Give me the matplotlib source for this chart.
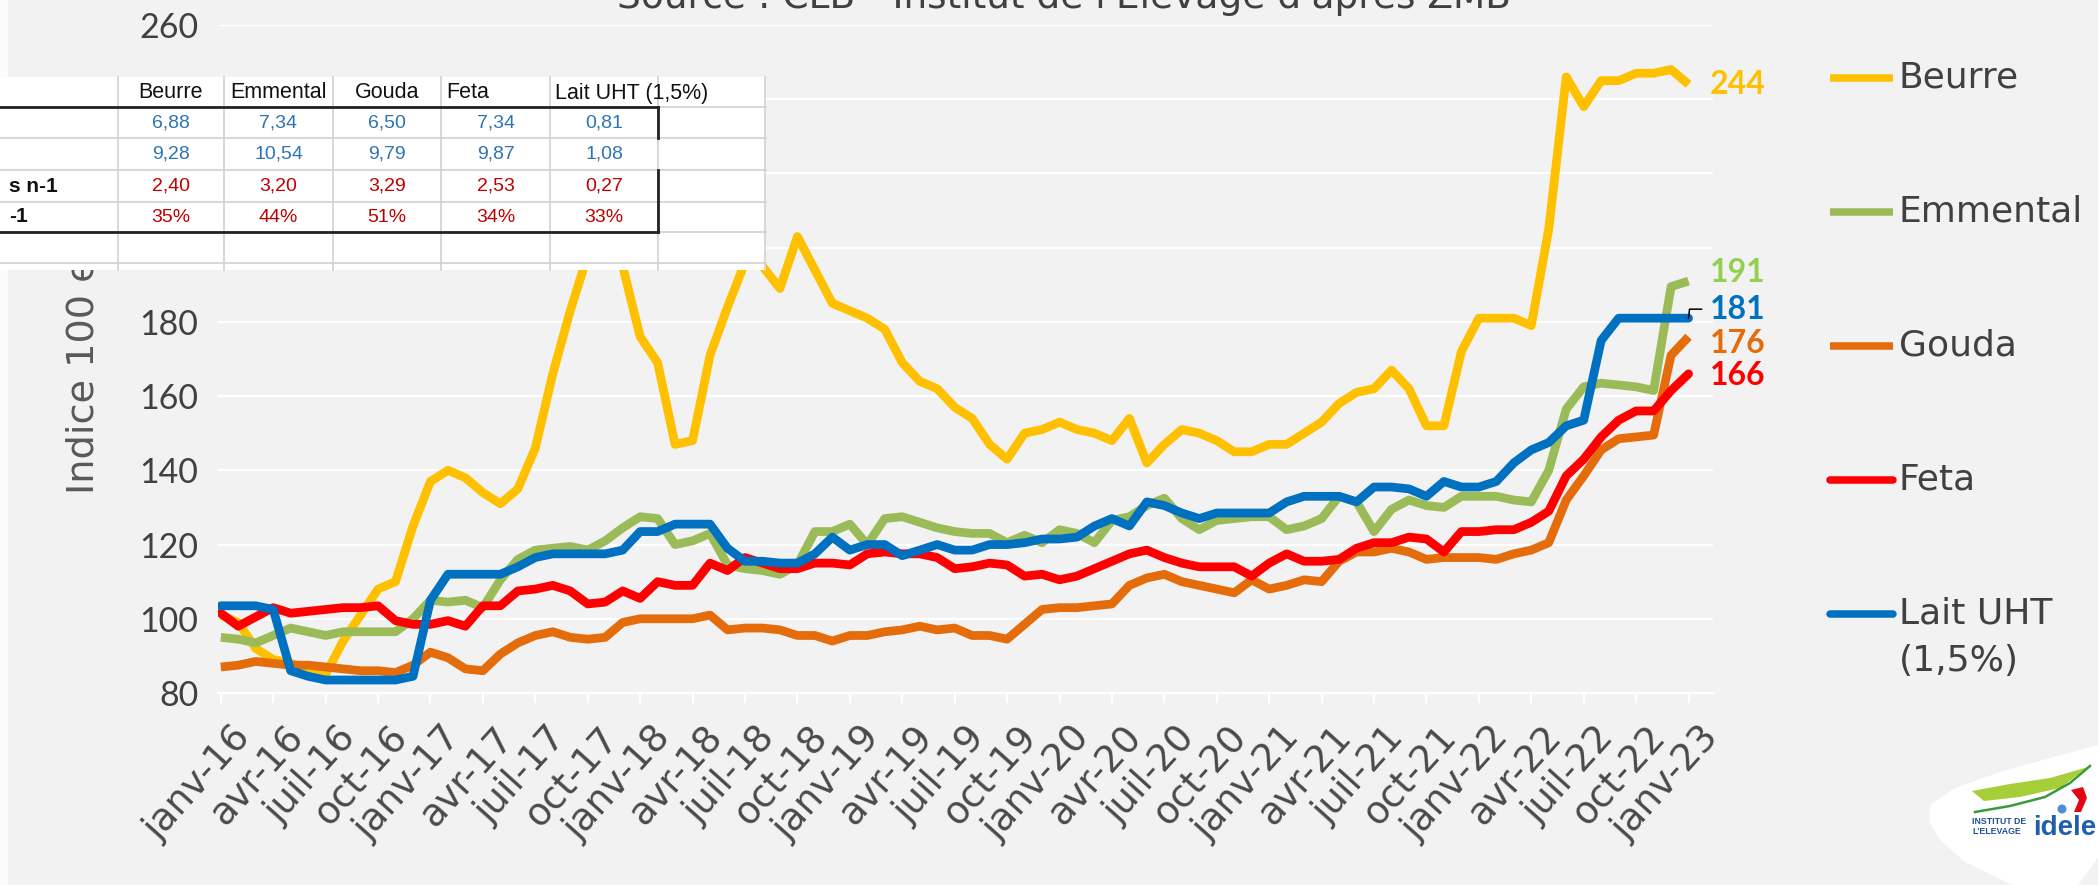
import matplotlib
matplotlib.use('Agg')
import matplotlib.pyplot as plt
from matplotlib import font_manager
from matplotlib.patches import Rectangle, Polygon, Circle
from matplotlib.transforms import ScaledTranslation
import numpy as np

W, H, DPI = 2098, 885, 100

available = {f.name for f in font_manager.fontManager.ttflist}
def pick(*names):
    for n in names:
        if n in available:
            return n
    return 'DejaVu Sans'

NARROW = pick('Liberation Sans Narrow', 'DejaVu Sans Condensed', 'Lato')
MAIN = 'DejaVu Sans'
BOLDLAB = pick('Lato', 'DejaVu Sans')
ARIAL = pick('Liberation Sans', 'DejaVu Sans')

# ---------------- data ----------------
months = list(range(85))  # janv-16 .. janv-23
tick_labels = ['janv-16', 'avr-16', 'juil-16', 'oct-16', 'janv-17', 'avr-17', 'juil-17', 'oct-17',
               'janv-18', 'avr-18', 'juil-18', 'oct-18', 'janv-19', 'avr-19', 'juil-19', 'oct-19',
               'janv-20', 'avr-20', 'juil-20', 'oct-20', 'janv-21', 'avr-21', 'juil-21', 'oct-21',
               'janv-22', 'avr-22', 'juil-22', 'oct-22', 'janv-23']

beurre = [101, 99, 92, 89, 88, 86.5, 85, 94, 101, 108, 110, 125, 137, 140, 138, 134, 131, 135, 146, 166,
          183, 198, 212, 195, 176, 169, 147, 148, 171, 184,
          196, 195, 189, 203, 194, 185, 183, 181, 178, 169, 164, 162, 157, 154, 147, 143, 150, 151, 153, 151,
          150, 148, 154, 142, 147,
          151, 150, 148, 145, 145, 147, 147, 150, 153, 158, 161, 162, 167, 162, 152, 152, 172, 181, 181, 181,
          179, 205, 246, 238, 245, 245, 247, 247, 248, 244]
emmental = [95, 94.5, 93.5, 95.5, 97.5, 96.5, 95.5, 96.5, 96.5, 96.5, 96.5, 100, 105, 104.5, 105, 103, 110.5, 116, 118.5, 119,
            119.5, 118.5, 121, 124.5, 127.5, 127, 120, 121, 123, 114.5,
            113.5, 113, 112, 114.5, 123.5, 123.5, 125.5, 120, 127, 127.5, 126, 124.5, 123.5, 123, 123, 120.5, 122.5, 120.5, 124, 123,
            120.5, 126.5, 127.5, 130.5, 132.5,
            127, 124, 126.5, 127, 127.5, 127.5, 124, 125, 127, 133, 131.5, 123.5, 129.5, 132, 130.5, 130, 133, 133, 133, 132,
            131.5, 140, 156.5, 162.5, 163.5, 163, 162.5, 161.5, 189.5, 191]
gouda = [87, 87.5, 88.5, 88, 87.5, 87.5, 87, 86.5, 86, 86, 85.5, 87.5, 91, 89.5, 86.5, 86, 90.5, 93.5, 95.5, 96.5,
         95, 94.5, 95, 99, 100, 100, 100, 100, 101, 97,
         97.5, 97.5, 97, 95.5, 95.5, 94, 95.5, 95.5, 96.5, 97, 98, 97, 97.5, 95.5, 95.5, 94.5, 98.5, 102.5, 103, 103,
         103.5, 104, 109, 111, 112,
         110, 109, 108, 107, 110.5, 108, 109, 110.5, 110, 115.5, 118, 118, 119, 118, 116, 116.5, 116.5, 116.5, 116, 117.5,
         118.5, 120.5, 132, 138.5, 145.5, 148.5, 149, 149.5, 171, 176]
feta = [101.5, 98, 100.5, 103, 101.5, 102, 102.5, 103, 103, 103.5, 99.5, 98.5, 98.5, 99.5, 98, 103.5, 103.5, 107.5, 108, 109,
        107.5, 104, 104.5, 107.5, 105.5, 110, 109, 109, 115, 113,
        116.5, 115, 113.5, 113.5, 115, 115, 114.5, 117.5, 118, 117.5, 117.5, 116.5, 113.5, 114, 115, 114.5, 111.5, 112, 110.5, 111.5,
        113.5, 115.5, 117.5, 118.5, 116.5,
        115, 114, 114, 114, 111.5, 115, 117.5, 115.5, 115.5, 116, 119, 120.5, 120.5, 122, 121.5, 118, 123.5, 123.5, 124, 124,
        126, 129, 138.5, 143, 149, 153.5, 156, 156, 161.5, 166]
lait_uht = [103.5, 103.5, 103.5, 102.5, 86, 84.5, 83.5, 83.5, 83.5, 83.5, 83.5, 84.5, 105, 112, 112, 112, 112, 114, 116.5, 117.5,
            117.5, 117.5, 117.5, 118.5, 123.5, 123.5, 125.5, 125.5, 125.5, 119,
            115.5, 115.5, 115, 115, 117.5, 122, 118.5, 120, 120, 117, 118.5, 120, 118.5, 118.5, 120, 120, 120.5, 121.5, 121.5, 122,
            125, 127, 125, 131.5, 130.5,
            128.5, 127, 128.5, 128.5, 128.5, 128.5, 131.5, 133, 133, 133, 131.5, 135.5, 135.5, 135, 133, 137, 135.5, 135.5, 137, 142,
            145.5, 147.5, 152, 153.5, 175, 181, 181, 181, 181, 181]

series_names = ['Beurre', 'Emmental', 'Gouda', 'Feta', 'Lait UHT (1,5%)']

table_header = ['Beurre', 'Emmental', 'Gouda', 'Feta', 'Lait UHT (1,5%)']
table_row_labels = ['', '', 's n-1', '-1']
table_values = [['6,88', '7,34', '6,50', '7,34', '0,81'],
                ['9,28', '10,54', '9,79', '9,87', '1,08'],
                ['2,40', '3,20', '3,29', '2,53', '0,27'],
                ['35%', '44%', '51%', '34%', '33%']]

title = "Source : CLB - Institut de l'Elevage d'après ZMB"
ylabel = "Indice 100 en 2015"

# ---------------- styles ----------------
BG = '#F2F2F2'
colors = ['#FFC000', '#9BBB59', '#E46C0A', '#FF0000', '#0070C0']
label_colors = ['#FFC000', '#92D050', '#E46C0A', '#FF0000', '#0070C0']
caps = ['butt', 'butt', 'butt', 'round', 'round']
TXT = '#404040'

fig = plt.figure(figsize=(W / DPI, H / DPI), dpi=DPI, facecolor=BG)
L, R, T, B = 218, 1713, 25, 693
ax = fig.add_axes([L / W, 1 - B / H, (R - L) / W, (B - T) / H])
ax.set_facecolor(BG)
ax.set_xlim(-0.16, 85.4)
ax.set_ylim(80, 260)
ax.set_yticks(range(80, 261, 20))
ax.set_axisbelow(True)
ax.grid(axis='y', color='white', lw=1.6)
for s in ['top', 'right', 'left']:
    ax.spines[s].set_visible(False)
ax.spines['bottom'].set_color('white')
ax.spines['bottom'].set_linewidth(1.6)
ax.tick_params(axis='y', length=0, pad=14, labelsize=24.5, labelcolor=TXT)
for lb in ax.get_yticklabels():
    lb.set_family(NARROW)
ax.set_xticks(months[::3])
ax.set_xticklabels(tick_labels, rotation=48, ha='right', va='top', rotation_mode='anchor',
                   family=MAIN, fontsize=27, color='#4A4A4A')
ax.tick_params(axis='x', direction='out', length=7, width=1.5, color='white', pad=12)
shift = ScaledTranslation(11 / DPI, 0, fig.dpi_scale_trans)
for lb in ax.get_xticklabels():
    lb.set_transform(lb.get_transform() + shift)

data = [beurre, emmental, gouda, feta, lait_uht]
for vals, c, cap in zip(data, colors, caps):
    ax.plot(months, vals, color=c, lw=6.3, solid_joinstyle='round', solid_capstyle=cap, zorder=3)

# end labels
dys = [0, 9, -7, -2, 9]
for vals, c, dy in zip(data, label_colors, dys):
    ax.annotate(f"{vals[-1]:.0f}", xy=(months[-1], vals[-1]), xytext=(21 * 0.72, dy * 0.72),
                textcoords='offset points', ha='left', va='center', fontsize=23,
                fontweight='bold', color=c, family=BOLDLAB, annotation_clip=False)
# leader line for Lait UHT label
p = ax.transData.transform((months[-1], lait_uht[-1]))
pts = np.array([p, p + [1, 9], p + [13, 9]])
dp = ax.transData.inverted().transform(pts)
ax.plot(dp[:, 0], dp[:, 1], color='black', lw=1.1, clip_on=False, zorder=6)

# y label
ax.text((84 - L) / (R - L), (B - 494) / (B - T), ylabel, transform=ax.transAxes, rotation=90,
        rotation_mode='anchor', ha='left', va='center', fontsize=27.5, color='#595959', family=MAIN)

# ---------------- overlay (pixel coordinates) ----------------
ov = fig.add_axes([0, 0, 1, 1], zorder=10)
ov.set_xlim(0, W)
ov.set_ylim(H, 0)
ov.axis('off')
ov.patch.set_visible(False)

# title (partly cut at top)
ov.text(1064, 8, title, ha='center', va='baseline', fontsize=27, color=TXT, family=MAIN)

# legend
leg_y = [78, 212, 346, 480, 614]
for name, c, cap, y in zip(series_names, colors, caps, leg_y):
    ov.plot([1830, 1893], [y, y], color=c, lw=5.4, solid_capstyle=cap)
    if name.startswith('Lait'):
        ov.text(1899, y, 'Lait UHT', ha='left', va='center', fontsize=26, color=TXT, family=MAIN)
        ov.text(1899, y + 47, '(1,5%)', ha='left', va='center', fontsize=26, color=TXT, family=MAIN)
    else:
        ov.text(1899, y, name, ha='left', va='center', fontsize=26, color=TXT, family=MAIN)

# left white strip
ov.add_patch(Rectangle((0, 0), 8, H, fc='#FBFBFB', ec='none'))

# pasted table
cols = [0, 118, 224, 333, 441, 550, 658, 765]
ov.add_patch(Rectangle((0, 77), 766, 193, fc='white', ec='none', zorder=1))
GR = '#D4D4D4'
for x in cols[1:]:
    ov.plot([x, x], [77, 270], color=GR, lw=1.3, zorder=2)
for y in [107, 138, 170, 202, 232, 263]:
    ov.plot([0, 766], [y, y], color=GR, lw=1.3, zorder=2)
ov.plot([0, 658], [107, 107], color='#222222', lw=2.0, zorder=3)
ov.plot([0, 658], [232, 232], color='#222222', lw=2.0, zorder=3)
ov.plot([658, 658], [107, 138], color='#222222', lw=2.0, zorder=3)
ov.plot([658, 658], [170, 232], color='#222222', lw=2.0, zorder=3)

centers = [(cols[i + 1] + cols[i + 2]) / 2 for i in range(5)]
for i, h in enumerate(table_header):
    if i < 3:
        ov.text(centers[i], 93, h, ha='center', va='center', fontsize=15.5, color='#111111', family=ARIAL, zorder=4)
    else:
        ov.text(cols[i + 1] + 5, 93, h, ha='left', va='center', fontsize=15.5, color='#111111', family=ARIAL, zorder=4)
row_y = [123, 154, 186, 217]
for r, (lab, vals) in enumerate(zip(table_row_labels, table_values)):
    vc = '#2E74B5' if r < 2 else '#C00000'
    if lab:
        ov.text(9, row_y[r], lab, ha='left', va='center', fontsize=15, fontweight='bold',
                color='#111111', family=ARIAL, zorder=4)
    for i, v in enumerate(vals):
        ov.text(centers[i], row_y[r], v, ha='center', va='center', fontsize=14, color=vc,
                family=ARIAL, zorder=4)

# logo
ov.add_patch(Polygon([(1930, 805), (1955, 788), (2000, 772), (2050, 758), (2098, 745), (2098, 858),
                      (2078, 885), (2012, 885), (1965, 862), (1940, 840), (1929, 822)],
                     closed=True, fc='white', ec='none', zorder=1))
ov.add_patch(Polygon([(1972, 791), (2010, 784), (2050, 778), (2088, 767), (2060, 788), (2020, 797), (1984, 801)],
                     closed=True, fc='#A6CE39', ec='none', zorder=2))
ov.plot([1975, 2010, 2045, 2070, 2090], [812, 806, 797, 783, 766], color='#3A9A3A', lw=1.8, zorder=3)
ov.add_patch(Circle((2062, 809), 4.5, fc='#4A90D9', ec='none', zorder=3))
ov.add_patch(Polygon([(2071, 790), (2083, 787), (2087, 798), (2081, 812), (2074, 812), (2079, 800)],
                     closed=True, fc='#E30613', ec='none', zorder=3))
ov.text(1972, 822, 'INSTITUT DE', ha='left', va='center', fontsize=6.3, fontweight='bold',
        color='#1F4E99', family=ARIAL, zorder=4)
ov.text(1972, 832, "L'ELEVAGE", ha='left', va='center', fontsize=6.3, fontweight='bold',
        color='#1F4E99', family=ARIAL, zorder=4)
ov.text(2033, 828, 'idele', ha='left', va='center', fontsize=20, fontweight='bold',
        color='#1F5FAD', family=ARIAL, zorder=4)

fig.savefig('out.png', dpi=DPI, facecolor=BG)
